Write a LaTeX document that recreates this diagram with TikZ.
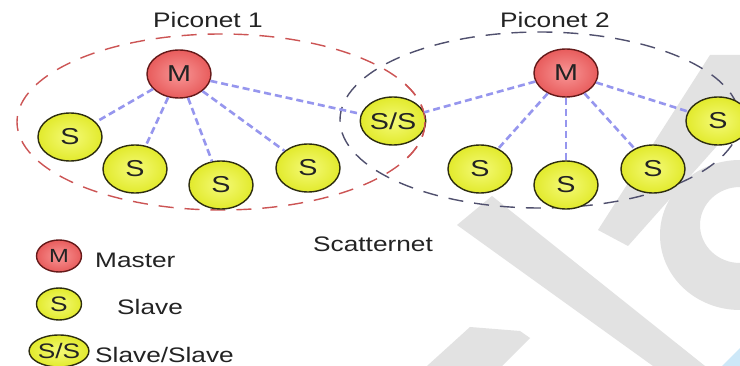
\documentclass[tikz,border=0pt]{standalone}
\usepackage{fontspec}
\setmainfont{Liberation Sans}
\usepackage{graphicx}
\usetikzlibrary{shapes.geometric}

\definecolor{inkdark}{RGB}{35,35,35}
\definecolor{mfill}{RGB}{232,92,92}
\definecolor{mlight}{RGB}{248,150,150}
\definecolor{mline}{RGB}{100,25,25}
\definecolor{sfill}{RGB}{226,234,44}
\definecolor{slight}{RGB}{244,250,120}
\definecolor{sline}{RGB}{45,45,15}
\definecolor{linkblue}{RGB}{150,150,238}
\definecolor{ringred}{RGB}{204,84,84}
\definecolor{ringblue}{RGB}{80,80,110}
\definecolor{wm}{RGB}{226,226,226}
\definecolor{wmblue}{RGB}{205,232,248}

% wide sans lettering
\newcommand\stretched[2]{\scalebox{1.25}[1]{\fontsize{#1}{#1}\selectfont #2}}

\tikzset{
  unit/.style={ellipse, minimum width=64pt, minimum height=48pt, inner sep=0pt,
               line width=1.4pt, text=inkdark},
  master/.style={unit, draw=mline, inner color=mlight, outer color=mfill},
  slave/.style={unit, draw=sline, inner color=slight, outer color=sfill},
  legendsize/.style={minimum width=45pt, minimum height=32pt},
  link/.style={linkblue, line width=2.6pt, dash pattern=on 7pt off 4pt},
  ring/.style={line width=1.4pt, dash pattern=on 15pt off 11pt},
  caption/.style={anchor=base west, inner sep=0pt, text=inkdark},
}

\begin{document}
\begin{tikzpicture}[x=1pt, y=-1pt]
\useasboundingbox (0,0) rectangle (740,366);
\fill[white] (0,0) rectangle (740,366);

% faint background logo
\fill[wm] (457,225) -- (492,196) -- (705,366) -- (653,366) -- cycle;
\fill[wm] (598,230) -- (710,55) -- (740,55) -- (740,120) -- (628,246) -- cycle;
\fill[wm, even odd rule] (740,235) ellipse [x radius=80, y radius=75]
                         (740,225) ellipse [x radius=40, y radius=38];
\fill[wm] (427,366) -- (470,327) -- (520,331) -- (530,338) -- (502,366) -- cycle;
\fill[wmblue] (722,366) -- (740,348) -- (740,366) -- cycle;

% piconet boundaries
\draw[ring, ringred]  (221,122) ellipse [x radius=204, y radius=88];
\draw[ring, ringblue] (540,120) ellipse [x radius=200, y radius=88];

% piconet 1
\node[master] (m1) at (179,74)  {\stretched{23}{M}};
\node[slave]  (a1) at (70,137)  {\stretched{23}{S}};
\node[slave]  (a2) at (135,169) {\stretched{23}{S}};
\node[slave]  (a3) at (221,185) {\stretched{23}{S}};
\node[slave]  (a4) at (308,168) {\stretched{23}{S}};
\node[slave]  (ss) at (393,121) {\stretched{23}{S/S}};

% piconet 2
\node[master] (m2) at (566,73)  {\stretched{23}{M}};
\node[slave]  (b1) at (480,169) {\stretched{23}{S}};
\node[slave]  (b2) at (566,185) {\stretched{23}{S}};
\node[slave]  (b3) at (653,169) {\stretched{23}{S}};
\node[slave]  (b4) at (718,121) {\stretched{23}{S}};

% the red boundary runs across the shared slave
\begin{scope}
  \clip (405,60) rectangle (440,180);
  \draw[ring, ringred] (221,122) ellipse [x radius=204, y radius=88];
\end{scope}

% radio links
\foreach \t in {a1,a2,a3,a4,ss} \draw[link] (m1) -- (\t);
\foreach \t in {ss,b1,b2,b3,b4} \draw[link] (m2) -- (\t);

% titles
\node[caption] (t1) at (153,28)  {\stretched{21}{Piconet 1}};
\node[caption] (t2) at (500,28)  {\stretched{21}{Piconet 2}};
\node[caption] (t3) at (313,252) {\stretched{21}{Scatternet}};

% legend
\node[master, legendsize] (lm) at (59,256) {\stretched{19}{M}};
\node[slave,  legendsize] (ls) at (59,304) {\stretched{21}{S}};
\node[slave,  legendsize] (lss) at (59,351) {\stretched{21}{S/S}};
\node[caption] (lmt)  at (95,268)  {\stretched{21}{Master}};
\node[caption] (lst)  at (117,315) {\stretched{21}{Slave}};
\node[caption] (lsst) at (95,363)  {\stretched{21}{Slave/Slave}};
\end{tikzpicture}
\end{document}
